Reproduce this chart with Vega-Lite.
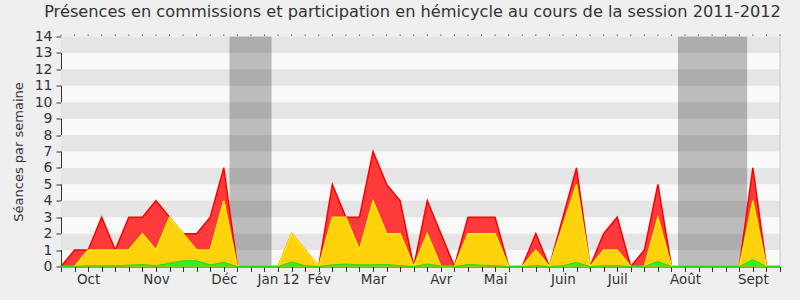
{
  "$schema": "https://vega.github.io/schema/vega-lite/v6.json",
  "width": 719,
  "height": 230,
  "autosize": {"type": "none"},
  "padding": {"left": 61, "top": 36.5, "right": 20, "bottom": 33.5},
  "background": "#efefef",
  "title": {
    "text": "Présences en commissions et participation en hémicycle au cours de la session 2011-2012",
    "font": "DejaVu Sans",
    "fontSize": 16.2,
    "fontWeight": "normal",
    "color": "#333333",
    "anchor": "middle",
    "dx": -8,
    "offset": 9
  },
  "config": {
    "view": {"fill": "#f9f9f9", "stroke": null},
    "font": "DejaVu Sans"
  },
  "datasets": {
    "stripes": [
      {"lo": 1, "hi": 2}, {"lo": 3, "hi": 4}, {"lo": 5, "hi": 6}, {"lo": 7, "hi": 8},
      {"lo": 9, "hi": 10}, {"lo": 11, "hi": 12}, {"lo": 13, "hi": 14}
    ],
    "vacances": [
      {"debut": 12.42, "fin": 15.52},
      {"debut": 45.48, "fin": 50.58}
    ],
    "bord": [{"w": 53}],
    "semaines": [
      {"w": 0, "total": 0, "commission": 0, "hemicycle": 0},
      {"w": 1, "total": 1, "commission": 0, "hemicycle": 0},
      {"w": 2, "total": 1, "commission": 1, "hemicycle": 0.05},
      {"w": 3, "total": 3, "commission": 1, "hemicycle": 0.05},
      {"w": 4, "total": 1, "commission": 1, "hemicycle": 0.05},
      {"w": 5, "total": 3, "commission": 1, "hemicycle": 0.08},
      {"w": 6, "total": 3, "commission": 2, "hemicycle": 0.12},
      {"w": 7, "total": 4, "commission": 1, "hemicycle": 0.05},
      {"w": 8, "total": 3, "commission": 3, "hemicycle": 0.2},
      {"w": 9, "total": 2, "commission": 2, "hemicycle": 0.35},
      {"w": 10, "total": 2, "commission": 1, "hemicycle": 0.35},
      {"w": 11, "total": 3, "commission": 1, "hemicycle": 0.1},
      {"w": 12, "total": 6, "commission": 4, "hemicycle": 0.25},
      {"w": 13, "total": 0, "commission": 0, "hemicycle": 0},
      {"w": 14, "total": 0, "commission": 0, "hemicycle": 0},
      {"w": 15, "total": 0, "commission": 0, "hemicycle": 0},
      {"w": 16, "total": 0, "commission": 0, "hemicycle": 0},
      {"w": 17, "total": 2, "commission": 2, "hemicycle": 0.28},
      {"w": 18, "total": 1, "commission": 1, "hemicycle": 0.05},
      {"w": 19, "total": 0, "commission": 0, "hemicycle": 0},
      {"w": 20, "total": 5, "commission": 3, "hemicycle": 0.1},
      {"w": 21, "total": 3, "commission": 3, "hemicycle": 0.15},
      {"w": 22, "total": 3, "commission": 1, "hemicycle": 0.1},
      {"w": 23, "total": 7, "commission": 4, "hemicycle": 0.1},
      {"w": 24, "total": 5, "commission": 2, "hemicycle": 0.12},
      {"w": 25, "total": 4, "commission": 2, "hemicycle": 0.05},
      {"w": 26, "total": 0, "commission": 0, "hemicycle": 0},
      {"w": 27, "total": 4, "commission": 2, "hemicycle": 0.15},
      {"w": 28, "total": 2, "commission": 0, "hemicycle": 0.03},
      {"w": 29, "total": 0, "commission": 0, "hemicycle": 0},
      {"w": 30, "total": 3, "commission": 2, "hemicycle": 0.12},
      {"w": 31, "total": 3, "commission": 2, "hemicycle": 0.08},
      {"w": 32, "total": 3, "commission": 2, "hemicycle": 0.05},
      {"w": 33, "total": 0, "commission": 0, "hemicycle": 0},
      {"w": 34, "total": 0, "commission": 0, "hemicycle": 0},
      {"w": 35, "total": 2, "commission": 1, "hemicycle": 0.05},
      {"w": 36, "total": 0, "commission": 0, "hemicycle": 0},
      {"w": 37, "total": 3, "commission": 2.5, "hemicycle": 0.05},
      {"w": 38, "total": 6, "commission": 5, "hemicycle": 0.25},
      {"w": 39, "total": 0, "commission": 0, "hemicycle": 0},
      {"w": 40, "total": 2, "commission": 1, "hemicycle": 0.05},
      {"w": 41, "total": 3, "commission": 1, "hemicycle": 0.05},
      {"w": 42, "total": 0, "commission": 0, "hemicycle": 0},
      {"w": 43, "total": 1, "commission": 0, "hemicycle": 0},
      {"w": 44, "total": 5, "commission": 3, "hemicycle": 0.3},
      {"w": 45, "total": 0, "commission": 0, "hemicycle": 0},
      {"w": 46, "total": 0, "commission": 0, "hemicycle": 0},
      {"w": 47, "total": 0, "commission": 0, "hemicycle": 0},
      {"w": 48, "total": 0, "commission": 0, "hemicycle": 0},
      {"w": 49, "total": 0, "commission": 0, "hemicycle": 0},
      {"w": 50, "total": 0, "commission": 0, "hemicycle": 0},
      {"w": 51, "total": 6, "commission": 4, "hemicycle": 0.42},
      {"w": 52, "total": 0, "commission": 0, "hemicycle": 0},
      {"w": 53, "total": 0, "commission": 0, "hemicycle": 0}
    ]
  },
  "layer": [
    {
      "data": {"name": "stripes"},
      "mark": {"type": "rect", "color": "#e5e5e5"},
      "encoding": {
        "y": {
          "field": "lo",
          "type": "quantitative",
          "scale": {"domain": [0, 14], "nice": false, "zero": true},
          "axis": {"values": [0,1,2,3,4,5,6,7,8,9,10,11,12,13,14], "title": "Séances par semaine", "titleFont": "DejaVu Sans", "titleFontSize": 13, "titleFontWeight": "normal", "titleColor": "#333333", "titlePadding": 9, "labelFont": "DejaVu Sans", "labelFontSize": 14, "labelColor": "#333333", "labelPadding": 4, "labelOverlap": false, "tickSize": 5, "tickColor": "#333333", "domainColor": "#333333", "grid": false}
        },
        "y2": {"field": "hi"}
      }
    },
    {
      "data": {"name": "vacances"},
      "mark": {"type": "rect", "color": "#000000", "opacity": 0.245},
      "encoding": {
        "x": {
          "field": "debut",
          "type": "quantitative",
          "scale": {"domain": [0, 53], "nice": false, "zero": false},
          "axis": {"orient": "bottom", "values": [0,1,2,3,4,5,6,7,8,9,10,11,12,13,14,15,16,17,18,19,20,21,22,23,24,25,26,27,28,29,30,31,32,33,34,35,36,37,38,39,40,41,42,43,44,45,46,47,48,49,50,51,52,53], "labelExpr": "{'2':'Oct','7':'Nov','12':'Déc','16':'Jan 12','19':'Fév','23':'Mar','28':'Avr','32':'Mai','37':'Juin','41':'Juil','46':'Août','51':'Sept'}[datum.value] || ''", "labelFont": "DejaVu Sans", "labelFontSize": 13.5, "labelColor": "#333333", "labelPadding": 1, "labelOverlap": false, "labelFlush": false, "labelBound": false, "tickSize": 5, "tickColor": "#333333", "domainColor": "#333333", "grid": false, "title": null}
        },
        "x2": {"field": "fin"}
      }
    },
    {
      "data": {"name": "bord"},
      "mark": {"type": "rule", "color": "#c8c8c8", "strokeWidth": 1},
      "encoding": {
        "x": {"field": "w", "type": "quantitative",
          "axis": {"orient": "bottom", "values": [0,1,2,3,4,5,6,7,8,9,10,11,12,13,14,15,16,17,18,19,20,21,22,23,24,25,26,27,28,29,30,31,32,33,34,35,36,37,38,39,40,41,42,43,44,45,46,47,48,49,50,51,52,53], "labelExpr": "{'2':'Oct','7':'Nov','12':'Déc','16':'Jan 12','19':'Fév','23':'Mar','28':'Avr','32':'Mai','37':'Juin','41':'Juil','46':'Août','51':'Sept'}[datum.value] || ''", "labelFont": "DejaVu Sans", "labelFontSize": 13.5, "labelColor": "#333333", "labelPadding": 1, "labelOverlap": false, "labelFlush": false, "labelBound": false, "tickSize": 5, "tickColor": "#333333", "domainColor": "#333333", "grid": false, "title": null}}
      }
    },
    {
      "data": {"name": "semaines"},
      "mark": {"type": "tick", "orient": "vertical", "color": "#222222", "size": 1.5, "thickness": 1, "yOffset": -1.2},
      "encoding": {
        "x": {"field": "w", "type": "quantitative",
          "axis": {"orient": "bottom", "values": [0,1,2,3,4,5,6,7,8,9,10,11,12,13,14,15,16,17,18,19,20,21,22,23,24,25,26,27,28,29,30,31,32,33,34,35,36,37,38,39,40,41,42,43,44,45,46,47,48,49,50,51,52,53], "labelExpr": "{'2':'Oct','7':'Nov','12':'Déc','16':'Jan 12','19':'Fév','23':'Mar','28':'Avr','32':'Mai','37':'Juin','41':'Juil','46':'Août','51':'Sept'}[datum.value] || ''", "labelFont": "DejaVu Sans", "labelFontSize": 13.5, "labelColor": "#333333", "labelPadding": 1, "labelOverlap": false, "labelFlush": false, "labelBound": false, "tickSize": 5, "tickColor": "#333333", "domainColor": "#333333", "grid": false, "title": null}},
        "y": {"datum": 14, "type": "quantitative",
          "axis": {"values": [0,1,2,3,4,5,6,7,8,9,10,11,12,13,14], "title": "Séances par semaine", "titleFont": "DejaVu Sans", "titleFontSize": 13, "titleFontWeight": "normal", "titleColor": "#333333", "titlePadding": 9, "labelFont": "DejaVu Sans", "labelFontSize": 14, "labelColor": "#333333", "labelPadding": 4, "labelOverlap": false, "tickSize": 5, "tickColor": "#333333", "domainColor": "#333333", "grid": false}}
      }
    },
    {
      "data": {"name": "semaines"},
      "mark": {"type": "area", "color": "#ff3a3a", "opacity": 1, "line": {"color": "#ff0000", "strokeWidth": 1.5}},
      "encoding": {
        "x": {"field": "w", "type": "quantitative",
          "axis": {"orient": "bottom", "values": [0,1,2,3,4,5,6,7,8,9,10,11,12,13,14,15,16,17,18,19,20,21,22,23,24,25,26,27,28,29,30,31,32,33,34,35,36,37,38,39,40,41,42,43,44,45,46,47,48,49,50,51,52,53], "labelExpr": "{'2':'Oct','7':'Nov','12':'Déc','16':'Jan 12','19':'Fév','23':'Mar','28':'Avr','32':'Mai','37':'Juin','41':'Juil','46':'Août','51':'Sept'}[datum.value] || ''", "labelFont": "DejaVu Sans", "labelFontSize": 13.5, "labelColor": "#333333", "labelPadding": 1, "labelOverlap": false, "labelFlush": false, "labelBound": false, "tickSize": 5, "tickColor": "#333333", "domainColor": "#333333", "grid": false, "title": null}},
        "y": {"field": "total", "type": "quantitative", "stack": null,
          "axis": {"values": [0,1,2,3,4,5,6,7,8,9,10,11,12,13,14], "title": "Séances par semaine", "titleFont": "DejaVu Sans", "titleFontSize": 13, "titleFontWeight": "normal", "titleColor": "#333333", "titlePadding": 9, "labelFont": "DejaVu Sans", "labelFontSize": 14, "labelColor": "#333333", "labelPadding": 4, "labelOverlap": false, "tickSize": 5, "tickColor": "#333333", "domainColor": "#333333", "grid": false}}
      }
    },
    {
      "data": {"name": "semaines"},
      "mark": {"type": "area", "color": "#ffd20c", "opacity": 1, "line": {"color": "#ffea00", "strokeWidth": 1.5}},
      "encoding": {
        "x": {"field": "w", "type": "quantitative",
          "axis": {"orient": "bottom", "values": [0,1,2,3,4,5,6,7,8,9,10,11,12,13,14,15,16,17,18,19,20,21,22,23,24,25,26,27,28,29,30,31,32,33,34,35,36,37,38,39,40,41,42,43,44,45,46,47,48,49,50,51,52,53], "labelExpr": "{'2':'Oct','7':'Nov','12':'Déc','16':'Jan 12','19':'Fév','23':'Mar','28':'Avr','32':'Mai','37':'Juin','41':'Juil','46':'Août','51':'Sept'}[datum.value] || ''", "labelFont": "DejaVu Sans", "labelFontSize": 13.5, "labelColor": "#333333", "labelPadding": 1, "labelOverlap": false, "labelFlush": false, "labelBound": false, "tickSize": 5, "tickColor": "#333333", "domainColor": "#333333", "grid": false, "title": null}},
        "y": {"field": "commission", "type": "quantitative", "stack": null,
          "axis": {"values": [0,1,2,3,4,5,6,7,8,9,10,11,12,13,14], "title": "Séances par semaine", "titleFont": "DejaVu Sans", "titleFontSize": 13, "titleFontWeight": "normal", "titleColor": "#333333", "titlePadding": 9, "labelFont": "DejaVu Sans", "labelFontSize": 14, "labelColor": "#333333", "labelPadding": 4, "labelOverlap": false, "tickSize": 5, "tickColor": "#333333", "domainColor": "#333333", "grid": false}}
      }
    },
    {
      "data": {"name": "semaines"},
      "mark": {"type": "area", "color": "#2ef02e", "opacity": 1, "line": {"color": "#22dd00", "strokeWidth": 1}},
      "encoding": {
        "x": {"field": "w", "type": "quantitative",
          "axis": {"orient": "bottom", "values": [0,1,2,3,4,5,6,7,8,9,10,11,12,13,14,15,16,17,18,19,20,21,22,23,24,25,26,27,28,29,30,31,32,33,34,35,36,37,38,39,40,41,42,43,44,45,46,47,48,49,50,51,52,53], "labelExpr": "{'2':'Oct','7':'Nov','12':'Déc','16':'Jan 12','19':'Fév','23':'Mar','28':'Avr','32':'Mai','37':'Juin','41':'Juil','46':'Août','51':'Sept'}[datum.value] || ''", "labelFont": "DejaVu Sans", "labelFontSize": 13.5, "labelColor": "#333333", "labelPadding": 1, "labelOverlap": false, "labelFlush": false, "labelBound": false, "tickSize": 5, "tickColor": "#333333", "domainColor": "#333333", "grid": false, "title": null}},
        "y": {"field": "hemicycle", "type": "quantitative", "stack": null,
          "axis": {"values": [0,1,2,3,4,5,6,7,8,9,10,11,12,13,14], "title": "Séances par semaine", "titleFont": "DejaVu Sans", "titleFontSize": 13, "titleFontWeight": "normal", "titleColor": "#333333", "titlePadding": 9, "labelFont": "DejaVu Sans", "labelFontSize": 14, "labelColor": "#333333", "labelPadding": 4, "labelOverlap": false, "tickSize": 5, "tickColor": "#333333", "domainColor": "#333333", "grid": false}}
      }
    }
  ]
}
